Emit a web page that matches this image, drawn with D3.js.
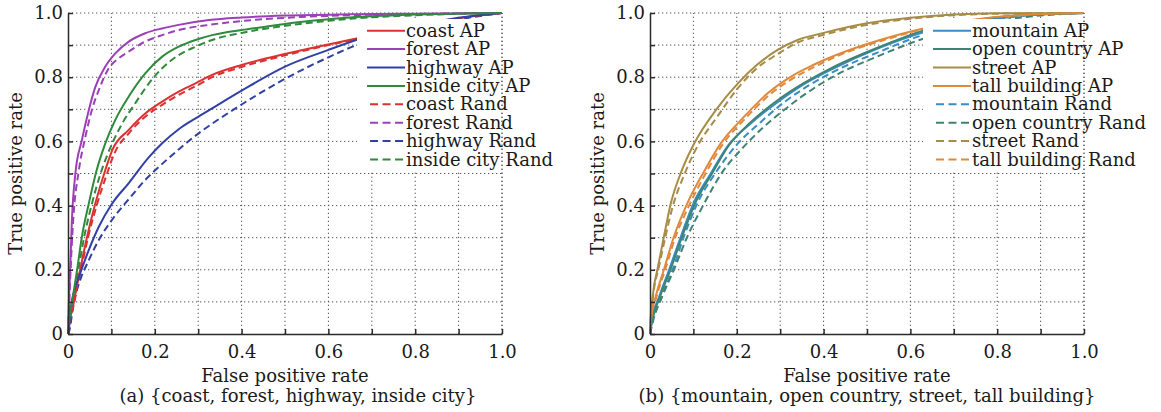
<!DOCTYPE html>
<html>
<head>
<meta charset="utf-8">
<title>ROC curves</title>
<script src="https://cdnjs.cloudflare.com/ajax/libs/d3/7.8.5/d3.min.js"></script>
<style>
body { margin: 0; background: #fff; }
svg { font-family: "DejaVu Serif", serif; }
.grid line { stroke: #555; stroke-width: 1; stroke-dasharray: 1.3,2.7; }
.axis path, .axis line { stroke: #2a2a2a; stroke-width: 1.5; }
.axis text { font-family: "DejaVu Serif", serif; font-size: 18px; fill: #1a1a1a; }
.title { font-size: 18px; fill: #1a1a1a; text-anchor: middle; }
.leg { font-size: 18px; fill: #1a1a1a; }
.curve { fill: none; stroke-width: 2; }
</style>
</head>
<body>
<svg id="vis" width="1161" height="412"></svg>
<script>
// axis ticks
var tickValues = [0, 0.1, 0.2, 0.3, 0.4, 0.5, 0.6, 0.7, 0.8, 0.9, 1.0];
var tickLabels = ["0", "", "0.2", "", "0.4", "", "0.6", "", "0.8", "", "1.0"];

// panel (a): [false positive rate, true positive rate]
var coastAP = [[0,0],[0.004,0.04],[0.013,0.096],[0.028,0.2],[0.044,0.303],[0.063,0.407],[0.086,0.511],[0.102,0.573],[0.14,0.636],[0.178,0.687],[0.217,0.724],[0.255,0.755],[0.294,0.781],[0.332,0.807],[0.4,0.838],[0.5,0.872],[0.6,0.902],[0.67,0.922],[0.8,0.96],[0.9,0.984],[1,1]];
var forestAP = [[0,0],[0.002,0.1],[0.005,0.2],[0.009,0.355],[0.017,0.5],[0.032,0.604],[0.048,0.698],[0.063,0.77],[0.086,0.833],[0.109,0.874],[0.14,0.911],[0.178,0.937],[0.217,0.952],[0.255,0.963],[0.325,0.978],[0.4,0.986],[0.5,0.992],[0.65,0.996],[0.8,0.998],[1,1]];
var highwayAP = [[0,0],[0.002,0.012],[0.005,0.064],[0.017,0.147],[0.028,0.189],[0.048,0.262],[0.071,0.334],[0.101,0.405],[0.14,0.47],[0.186,0.55],[0.217,0.594],[0.255,0.638],[0.294,0.672],[0.332,0.703],[0.4,0.758],[0.5,0.833],[0.6,0.885],[0.67,0.918],[0.8,0.96],[0.9,0.985],[1,1]];
var insideCityAP = [[0,0],[0.002,0.033],[0.009,0.096],[0.021,0.2],[0.032,0.303],[0.048,0.407],[0.066,0.51],[0.086,0.594],[0.109,0.667],[0.14,0.74],[0.178,0.812],[0.217,0.864],[0.255,0.895],[0.294,0.916],[0.332,0.931],[0.4,0.947],[0.458,0.958],[0.535,0.972],[0.65,0.986],[0.8,0.995],[1,1]];
var coastRand = [[0,0],[0.005,0.04],[0.014,0.096],[0.03,0.2],[0.046,0.3],[0.066,0.4],[0.09,0.5],[0.106,0.56],[0.14,0.625],[0.178,0.677],[0.217,0.714],[0.255,0.745],[0.294,0.772],[0.332,0.8],[0.4,0.832],[0.5,0.868],[0.6,0.9],[0.67,0.92],[0.8,0.958],[0.9,0.983],[1,1]];
var forestRand = [[0,0],[0.003,0.1],[0.006,0.2],[0.012,0.355],[0.025,0.51],[0.04,0.614],[0.055,0.698],[0.071,0.76],[0.094,0.828],[0.117,0.859],[0.14,0.88],[0.178,0.911],[0.217,0.931],[0.255,0.947],[0.325,0.963],[0.4,0.975],[0.5,0.985],[0.65,0.993],[0.8,0.997],[1,1]];
var highwayRand = [[0,0],[0.003,0.01],[0.013,0.096],[0.028,0.168],[0.048,0.23],[0.071,0.293],[0.101,0.355],[0.14,0.42],[0.178,0.48],[0.217,0.53],[0.255,0.575],[0.294,0.618],[0.332,0.655],[0.4,0.715],[0.5,0.795],[0.6,0.862],[0.67,0.903],[0.8,0.95],[0.9,0.98],[1,1]];
var insideCityRand = [[0,0],[0.003,0.03],[0.011,0.096],[0.024,0.2],[0.037,0.3],[0.054,0.4],[0.075,0.5],[0.102,0.594],[0.125,0.656],[0.155,0.719],[0.186,0.78],[0.217,0.828],[0.255,0.869],[0.294,0.895],[0.332,0.916],[0.4,0.938],[0.458,0.952],[0.535,0.966],[0.65,0.982],[0.8,0.993],[1,1]];

// panel (b)
var mountainAP = [[0,0],[0.004,0.04],[0.021,0.116],[0.044,0.2],[0.071,0.303],[0.1,0.407],[0.14,0.5],[0.178,0.584],[0.232,0.656],[0.294,0.722],[0.355,0.778],[0.42,0.825],[0.53,0.892],[0.63,0.94],[0.75,0.975],[0.85,0.992],[1,1]];
var openCountryAP = [[0,0],[0.005,0.04],[0.023,0.116],[0.047,0.2],[0.074,0.303],[0.104,0.407],[0.143,0.5],[0.18,0.584],[0.232,0.66],[0.294,0.728],[0.355,0.782],[0.42,0.83],[0.53,0.895],[0.63,0.945],[0.75,0.978],[0.85,0.993],[1,1]];
var streetAP = [[0,0],[0.001,0.04],[0.003,0.075],[0.009,0.147],[0.017,0.2],[0.032,0.303],[0.048,0.407],[0.072,0.505],[0.102,0.594],[0.152,0.698],[0.202,0.78],[0.248,0.84],[0.294,0.885],[0.34,0.916],[0.4,0.938],[0.5,0.968],[0.6,0.985],[0.7,0.995],[0.8,0.999],[1,1]];
var tallBuildingAP = [[0,0],[0.003,0.05],[0.013,0.116],[0.032,0.2],[0.055,0.303],[0.086,0.407],[0.124,0.505],[0.163,0.594],[0.217,0.677],[0.271,0.75],[0.325,0.802],[0.376,0.838],[0.45,0.88],[0.53,0.916],[0.63,0.952],[0.75,0.98],[0.85,0.993],[1,1]];
var mountainRand = [[0,0],[0.006,0.04],[0.026,0.116],[0.052,0.2],[0.078,0.303],[0.109,0.407],[0.15,0.5],[0.2,0.59],[0.255,0.66],[0.309,0.722],[0.355,0.765],[0.42,0.815],[0.53,0.88],[0.63,0.932],[0.75,0.97],[0.85,0.99],[1,1]];
var openCountryRand = [[0,0],[0.007,0.04],[0.028,0.116],[0.055,0.2],[0.086,0.303],[0.125,0.407],[0.167,0.505],[0.209,0.573],[0.263,0.646],[0.309,0.698],[0.355,0.745],[0.42,0.8],[0.53,0.868],[0.63,0.92],[0.75,0.962],[0.85,0.985],[1,1]];
var streetRand = [[0,0],[0.002,0.04],[0.004,0.075],[0.01,0.147],[0.019,0.2],[0.035,0.3],[0.053,0.4],[0.08,0.5],[0.109,0.584],[0.155,0.677],[0.202,0.765],[0.248,0.83],[0.294,0.872],[0.34,0.908],[0.4,0.932],[0.5,0.963],[0.6,0.982],[0.7,0.993],[0.8,0.998],[1,1]];
var tallBuildingRand = [[0,0],[0.004,0.05],[0.015,0.116],[0.035,0.2],[0.058,0.3],[0.09,0.4],[0.128,0.5],[0.167,0.59],[0.22,0.672],[0.275,0.745],[0.33,0.797],[0.38,0.833],[0.45,0.876],[0.53,0.912],[0.63,0.95],[0.75,0.978],[0.85,0.992],[1,1]];

var namesA = ["coast", "forest", "highway", "inside city"];
var colorsA = ["#dd3030", "#9c40b8", "#3040a4", "#2f8a3c"];
var apA = [coastAP, forestAP, highwayAP, insideCityAP];
var randA = [coastRand, forestRand, highwayRand, insideCityRand];

var namesB = ["mountain", "open country", "street", "tall building"];
var colorsB = ["#3a8cc2", "#3e8474", "#a68c46", "#e0893a"];
var apB = [mountainAP, openCountryAP, streetAP, tallBuildingAP];
var randB = [mountainRand, openCountryRand, streetRand, tallBuildingRand];

var svg = d3.select("#vis");
var plotTop = 13, plotBottom = 334;

drawPanel({ left: 68, right: 502, names: namesA, colors: colorsA, ap: apA, rand: randA,
            legendFrom: 0.666, yTitleX: 22, captionX: 298,
            caption: "(a) {coast, forest, highway, inside city}" });
drawPanel({ left: 650, right: 1084, names: namesB, colors: colorsB, ap: apB, rand: randB,
            legendFrom: 0.629, yTitleX: 604, captionX: 867,
            caption: "(b) {mountain, open country, street, tall building}" });

function drawPanel(p) {
  var x = d3.scaleLinear().domain([0, 1]).range([p.left, p.right]);
  var y = d3.scaleLinear().domain([0, 1]).range([plotBottom, plotTop]);
  var g = svg.append("g");

  // dotted grid
  var grid = g.append("g").attr("class", "grid");
  grid.selectAll(".gx").data(tickValues.slice(1)).enter().append("line")
    .attr("x1", d => x(d)).attr("x2", d => x(d))
    .attr("y1", y(0)).attr("y2", y(1));
  grid.selectAll(".gy").data(tickValues.slice(1)).enter().append("line")
    .attr("x1", x(0)).attr("x2", x(1))
    .attr("y1", d => y(d)).attr("y2", d => y(d));

  var line = d3.line().x(d => x(d[0])).y(d => y(d[1])).curve(d3.curveMonotoneX);

  // rand curves under AP curves
  p.rand.forEach(function (s, i) {
    g.append("path").attr("class", "curve").attr("d", line(s))
      .attr("stroke", p.colors[i]).attr("stroke-dasharray", "7,4");
  });
  p.ap.forEach(function (s, i) {
    g.append("path").attr("class", "curve").attr("d", line(s))
      .attr("stroke", p.colors[i]);
  });

  // legend box covers the curves
  var lx = x(p.legendFrom);
  var leg = g.append("g");
  leg.append("rect").attr("x", lx).attr("y", plotTop + 6)
    .attr("width", x(1) - lx - 1).attr("height", 153).attr("fill", "#fff");

  var entries = [];
  p.names.forEach((n, i) => entries.push({ label: n + " AP", color: p.colors[i], dash: null }));
  p.names.forEach((n, i) => entries.push({ label: n + " Rand", color: p.colors[i], dash: "8,4.5" }));

  entries.forEach(function (e, i) {
    var cy = plotTop + 17.7 + i * 18.4;
    leg.append("line")
      .attr("x1", lx + (e.dash ? 13 : 10)).attr("x2", lx + 48)
      .attr("y1", cy).attr("y2", cy)
      .attr("stroke", e.color).attr("stroke-width", 2)
      .attr("stroke-dasharray", e.dash);
    leg.append("text").attr("class", "leg")
      .attr("x", lx + 49).attr("y", cy + 6).text(e.label);
  });

  // dotted right border drawn again over the legend
  g.append("line")
    .attr("x1", x(1)).attr("x2", x(1)).attr("y1", y(0)).attr("y2", y(1))
    .attr("stroke", "#555").attr("stroke-dasharray", "1.3,2.7");

  // axes
  var fmt = (d, i) => tickLabels[i];
  g.append("g").attr("class", "axis")
    .attr("transform", `translate(0,${plotBottom})`)
    .call(d3.axisBottom(x).tickValues(tickValues).tickFormat(fmt)
      .tickSize(-5).tickSizeOuter(0).tickPadding(11));
  g.append("g").attr("class", "axis")
    .attr("transform", `translate(${p.left},0)`)
    .call(d3.axisLeft(y).tickValues(tickValues).tickFormat(fmt)
      .tickSize(-5).tickSizeOuter(0).tickPadding(5));
  g.selectAll(".axis").attr("font-family", null).attr("font-size", null);

  // titles
  g.append("text").attr("class", "title")
    .attr("x", (p.left + p.right) / 2).attr("y", 382).text("False positive rate");
  g.append("text").attr("class", "title")
    .attr("transform", `translate(${p.yTitleX},${(plotTop + plotBottom) / 2}) rotate(-90)`)
    .text("True positive rate");
  g.append("text").attr("class", "title")
    .attr("x", p.captionX).attr("y", 402).text(p.caption);
}
</script>
</body>
</html>
